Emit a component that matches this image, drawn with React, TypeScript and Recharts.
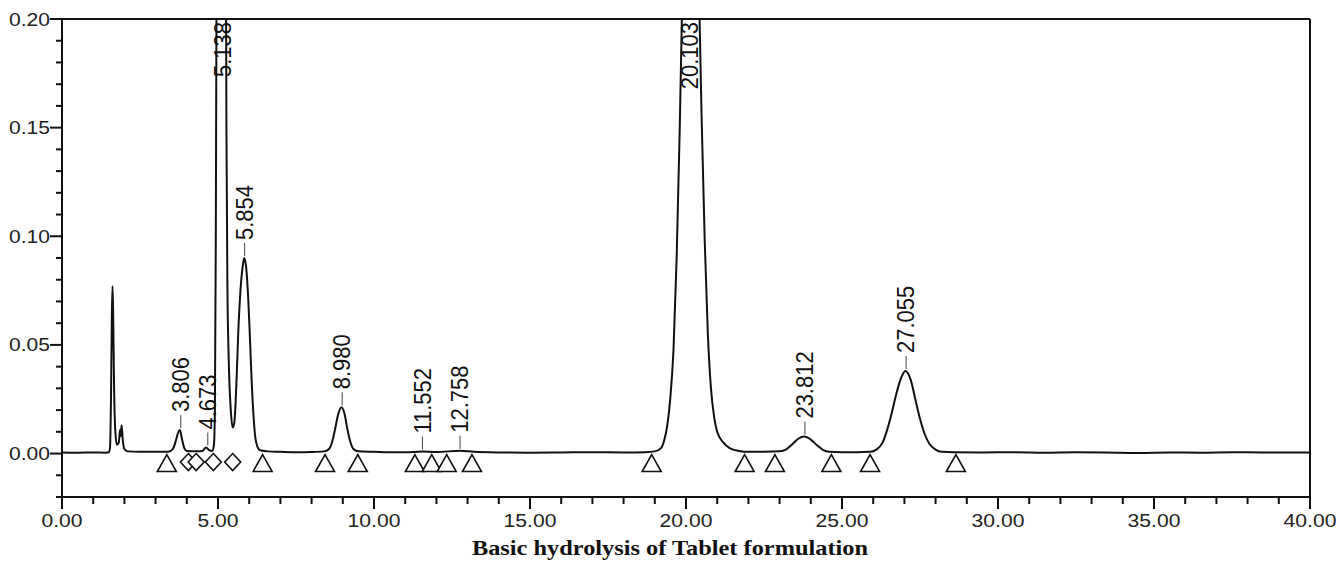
import { ComposedChart, Line, Scatter, XAxis, YAxis, ReferenceLine } from "recharts";

// chromatogram trace: [retention time (min), absorbance (AU)]
const TRACE: [number, number][] = [
  [0, 0.0005], [0.5, 0.0004], [1.0, 0.0005], [1.4, 0.0004], [1.5, 0.0006], [1.54, 0.003],
  [1.57, 0.025], [1.6, 0.066], [1.62, 0.077], [1.64, 0.064], [1.67, 0.03], [1.71, 0.01],
  [1.76, 0.004], [1.82, 0.005], [1.86, 0.011], [1.88, 0.008], [1.91, 0.013], [1.95, 0.006],
  [2.0, 0.002], [2.1, 0.001], [2.5, 0.0008], [3.0, 0.0008], [3.4, 0.0008], [3.55, 0.002],
  [3.65, 0.006], [3.72, 0.0095], [3.78, 0.0108], [3.84, 0.007], [3.92, 0.0025], [4.0, 0.0012],
  [4.3, 0.001], [4.5, 0.0012], [4.62, 0.0028], [4.72, 0.0015], [4.82, 0.0012], [4.87, 0.004],
  [4.9, 0.02], [4.93, 0.1], [4.96, 0.25], [5.0, 0.5], [5.05, 0.75], [5.1, 0.85], [5.15, 0.8],
  [5.2, 0.55], [5.24, 0.3], [5.27, 0.15], [5.3, 0.08], [5.35, 0.04], [5.41, 0.02], [5.47, 0.012],
  [5.52, 0.014], [5.56, 0.022], [5.6, 0.036], [5.65, 0.056], [5.72, 0.075], [5.79, 0.086],
  [5.84, 0.09], [5.9, 0.086], [5.97, 0.071], [6.03, 0.051], [6.08, 0.033], [6.14, 0.017],
  [6.19, 0.008], [6.27, 0.003], [6.35, 0.0015], [6.6, 0.001], [7.0, 0.0008], [7.5, 0.0006],
  [8.0, 0.0007], [8.4, 0.001], [8.55, 0.002], [8.65, 0.005], [8.75, 0.011], [8.85, 0.018],
  [8.96, 0.0213], [9.06, 0.018], [9.15, 0.011], [9.25, 0.005], [9.35, 0.002], [9.5, 0.001],
  [10.0, 0.0008], [10.5, 0.0006], [11.0, 0.0006], [11.55, 0.0009], [12.0, 0.0007], [12.76, 0.0013],
  [13.2, 0.0008], [14.0, 0.0005], [15.0, 0.0004], [16.0, 0.0005], [17.0, 0.0006], [18.0, 0.0005],
  [18.7, 0.0006], [19.0, 0.001], [19.2, 0.0025], [19.3, 0.006], [19.4, 0.013], [19.5, 0.026],
  [19.6, 0.048], [19.7, 0.09], [19.8, 0.15], [19.9, 0.225], [20.0, 0.29], [20.1, 0.335],
  [20.2, 0.33], [20.3, 0.29], [20.4, 0.225], [20.5, 0.155], [20.6, 0.098], [20.7, 0.055],
  [20.8, 0.03], [20.9, 0.017], [21.0, 0.01], [21.2, 0.005], [21.4, 0.0025], [21.7, 0.0012],
  [22.0, 0.0008], [22.5, 0.0008], [23.0, 0.001], [23.2, 0.0018], [23.4, 0.0042], [23.6, 0.0068],
  [23.78, 0.0078], [24.0, 0.0064], [24.2, 0.0038], [24.4, 0.0016], [24.6, 0.0008], [25.0, 0.0006],
  [25.5, 0.0006], [25.9, 0.0008], [26.1, 0.0018], [26.3, 0.005], [26.45, 0.011], [26.6, 0.019],
  [26.75, 0.028], [26.9, 0.035], [27.03, 0.038], [27.2, 0.034], [27.35, 0.025], [27.5, 0.016],
  [27.65, 0.009], [27.8, 0.0045], [28.0, 0.0018], [28.2, 0.0008], [28.6, 0.0006], [29.5, 0.0005],
  [30.5, 0.0006], [31.5, 0.0004], [32.5, 0.0006], [33.5, 0.0005], [34.5, 0.0003], [35.5, 0.0005],
  [36.5, 0.0004], [37.5, 0.0006], [38.5, 0.0005], [40, 0.0005],
];

// labelled peaks (off-scale ones sit at the 0.20 ceiling)
const PEAK_TIMES = [3.806, 4.673, 5.138, 5.854, 8.98, 11.552, 12.758, 20.103, 23.812, 27.055];
const PEAK_LABELS = ["3.806", "4.673", "5.138", "5.854", "8.980", "11.552", "12.758", "20.103", "23.812", "27.055"];
const PEAK_HEIGHTS = [0.0108, 0.0028, 0.2, 0.09, 0.0213, 0.0009, 0.0013, 0.2, 0.0078, 0.038];

// integration start/end markers on the baseline
const TRIANGLE_TIMES = [3.36, 6.43, 8.43, 9.48, 11.31, 11.85, 12.33, 13.14, 18.9, 21.88, 22.85, 24.66, 25.9, 28.65];
const DIAMOND_TIMES = [4.05, 4.3, 4.85, 5.47];

const X_TICKS = [0, 1, 2, 3, 4, 5, 6, 7, 8, 9, 10, 11, 12, 13, 14, 15, 16, 17, 18, 19, 20,
  21, 22, 23, 24, 25, 26, 27, 28, 29, 30, 31, 32, 33, 34, 35, 36, 37, 38, 39, 40];
const X_MAJOR = [0, 5, 10, 15, 20, 25, 30, 35, 40];
const X_LABELS = ["0.00", "5.00", "10.00", "15.00", "20.00", "25.00", "30.00", "35.00", "40.00"];
const Y_TICKS = [-0.02, -0.01, 0, 0.01, 0.02, 0.03, 0.04, 0.05, 0.06, 0.07, 0.08, 0.09, 0.1,
  0.11, 0.12, 0.13, 0.14, 0.15, 0.16, 0.17, 0.18, 0.19, 0.2];
const Y_MAJOR = [0, 0.05, 0.1, 0.15, 0.2];
const Y_LABELS = ["0.00", "0.05", "0.10", "0.15", "0.20"];

const TITLE = "Basic hydrolysis of Tablet formulation";

const INK = "#111";
const SANS = "'Liberation Sans', Arial, sans-serif";
const STRETCH = 1.14;

const trace = TRACE.map(([t, a]) => ({ t, a }));
const peaks = PEAK_TIMES.map((t, i) => ({ t, a: PEAK_HEIGHTS[i], label: PEAK_LABELS[i] }));
const triangles = TRIANGLE_TIMES.map(t => ({ t, a: 0 }));
const diamonds = DIAMOND_TIMES.map(t => ({ t, a: 0 }));

function XTick({ x, y, payload }: any) {
  const i = X_MAJOR.indexOf(payload.value);
  return (
    <g>
      <line x1={x} y1={y} x2={x} y2={y + (i >= 0 ? 12 : 7)} stroke={INK} strokeWidth={2} />
      {i >= 0 && (
        <text transform={`translate(${x},${y + 30}) scale(${STRETCH},1)`} textAnchor="middle"
          fontSize={18.5} fontFamily={SANS} fill="#222">{X_LABELS[i]}</text>
      )}
    </g>
  );
}

function YTick({ x, y, payload }: any) {
  const i = Y_MAJOR.indexOf(payload.value);
  return (
    <g>
      <line x1={x - (i >= 0 ? 12 : 6)} y1={y} x2={x} y2={y} stroke={INK} strokeWidth={2} />
      {i >= 0 && (
        <text transform={`translate(${x - 12},${y}) scale(${STRETCH},1)`} textAnchor="end"
          dominantBaseline="central" fontSize={18.5} fontFamily={SANS} fill="#222">{Y_LABELS[i]}</text>
      )}
    </g>
  );
}

function PeakLabel({ cx, cy, payload }: any) {
  if (payload.a >= 0.2) {
    return (
      <text transform={`translate(${cx},${cy + 3}) scale(1.08,1) rotate(-90)`} textAnchor="end"
        dominantBaseline="central" fontSize={22} fontFamily={SANS} fill={INK}>{payload.label}</text>
    );
  }
  return (
    <g>
      <line x1={cx} y1={cy - 2} x2={cx} y2={cy - 15} stroke="#444" strokeWidth={1} />
      <text transform={`translate(${cx},${cy - 18}) scale(1.08,1) rotate(-90)`} textAnchor="start"
        dominantBaseline="central" fontSize={22} fontFamily={SANS} fill={INK}>{payload.label}</text>
    </g>
  );
}

const Triangle = ({ cx, cy }: any) => (
  <path d={`M${cx},${cy + 1} L${cx + 9.5},${cy + 18} L${cx - 9.5},${cy + 18} Z`}
    fill="#fff" stroke={INK} strokeWidth={1.6} />
);

const Diamond = ({ cx, cy }: any) => (
  <path d={`M${cx},${cy} L${cx + 8},${cy + 8.5} L${cx},${cy + 17} L${cx - 8},${cy + 8.5} Z`}
    fill="#fff" stroke={INK} strokeWidth={1.6} />
);

export default function App() {
  return (
    <div style={{ position: "absolute", left: 0, top: 0, width: 1340, height: 569, background: "#fff" }}>
      <ComposedChart width={1340} height={569} data={trace} margin={{ top: 19, right: 30, bottom: 0, left: 0 }}>
        <XAxis dataKey="t" type="number" domain={[0, 40]} ticks={X_TICKS} interval={0}
          allowDataOverflow height={72} tickSize={0} tickMargin={0} tickLine={false}
          axisLine={{ stroke: INK, strokeWidth: 2 }} tick={<XTick />} />
        <YAxis type="number" domain={[-0.02, 0.2]} ticks={Y_TICKS} interval={0}
          allowDataOverflow width={62} tickSize={0} tickMargin={0} tickLine={false}
          axisLine={{ stroke: INK, strokeWidth: 2 }} tick={<YTick />} />
        <ReferenceLine y={0.2} stroke={INK} strokeWidth={2} />
        <ReferenceLine x={40} stroke={INK} strokeWidth={2} />
        <Line dataKey="a" type="monotone" stroke={INK} strokeWidth={2} dot={false} isAnimationActive={false} />
        <Scatter data={triangles} dataKey="a" shape={<Triangle />} isAnimationActive={false} />
        <Scatter data={diamonds} dataKey="a" shape={<Diamond />} isAnimationActive={false} />
        <Scatter data={peaks} dataKey="a" shape={<PeakLabel />} isAnimationActive={false} />
      </ComposedChart>
      <div style={{
        position: "absolute", left: 0, top: 536, width: 1340, textAlign: "center",
        fontFamily: "'Liberation Serif', 'Times New Roman', serif", fontWeight: "bold",
        fontSize: 21, lineHeight: "24px", color: INK, transform: "scaleX(1.16)",
      }}>{TITLE}</div>
    </div>
  );
}
